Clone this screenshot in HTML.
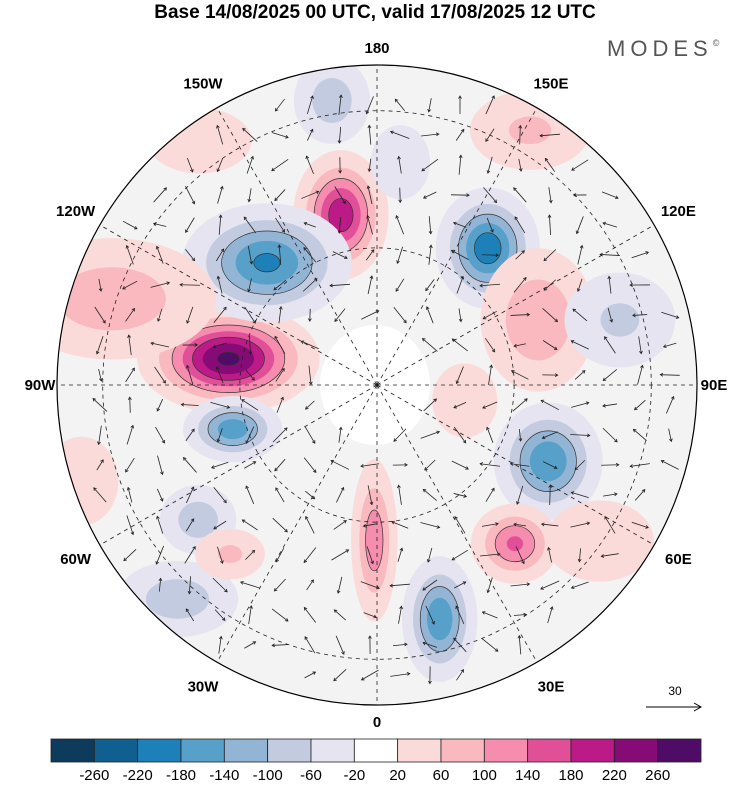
<!DOCTYPE html>
<html><head><meta charset="utf-8"><style>
body{margin:0;background:#fff;width:750px;height:783px;overflow:hidden;font-family:"Liberation Sans",sans-serif}
</style></head><body>
<svg id="s" width="750" height="783" viewBox="0 0 750 783">
<text x="375" y="18" text-anchor="middle" font-size="19" font-weight="bold">Base 14/08/2025 00 UTC, valid 17/08/2025 12 UTC</text>
<text x="607" y="56" font-size="22" fill="#555" letter-spacing="5">MODES<tspan font-size="9" dy="-10">©</tspan></text>
<defs><clipPath id="disk"><circle cx="377" cy="385" r="320"/></clipPath></defs>
<g id="map" clip-path="url(#disk)"></g>
<circle cx="377" cy="385" r="320" fill="none" stroke="#000" stroke-width="1.2"/>
<g id="labels" font-size="15" font-weight="bold"></g>
<g id="cbar"></g>
<text x="675" y="695" font-size="12" text-anchor="middle">30</text>
<line x1="646" y1="707" x2="700" y2="707" stroke="#000"/>
<path d="M694 703 L701 707 L694 711" fill="none" stroke="#000"/>
</svg>
<script>
const blobLon=[-100,-168,-138,141,-73,66,15,41,-1,112,-108,-171,105,-43,-53,-41,-144,149,174,-72,80,55];
const blobLat=[57,52,54,51.5,57,49,37,44,56,52,29,27,35,26,41,41,24,25,41,22,70.5,30.5];
const blobVal=[270,210,-190,-210,-170,-180,-180,150,130,100,90,-90,-70,-90,-90,70,60,70,-60,60,60,50];
const blobSpread=[[40,24],[22,30],[40,28],[24,28],[24,16],[26,28],[18,30],[22,20],[12,42],[32,40],[60,35],[22,25],[35,30],[35,22],[22,20],[22,16],[35,22],[38,25],[20,25],[25,30],[22,25],[40,30]];
const levels=[-260,-220,-180,-140,-100,-60,-20,20,60,100,140,180,220,260];
const colors=["#0c3b5c","#0f6091","#1d80b9","#56a0ca","#92b5d6","#c3cbe0","#e6e4f0","#ffffff","#fbdbd9","#f9b9bf","#f68daf","#e24f99","#bc1a86","#870b77","#4f0c66"];
const latCircles=[30,60];
const meridians=[0,30,60,90,120,150,180,210,240,270,300,330];
const lonLabels=["0","30E","60E","90E","120E","150E","180","150W","120W","90W","60W","30W"];
const NS="http://www.w3.org/2000/svg",cx=377,cy=385,R=320;
function proj(lon,lat){const r=R*(90-lat)/70,a=lon*Math.PI/180;return[cx+r*Math.sin(a),cy+r*Math.cos(a),a];}
function mk(t,p,at){const e=document.createElementNS(NS,t);for(const k in at)e.setAttribute(k,at[k]);p.appendChild(e);return e;}
const map=document.getElementById('map');
const bg=mk('circle',map,{cx:cx,cy:cy,r:R,fill:'#f3f3f3'});


const pole=mk('ellipse',map,{cx:375,cy:385,rx:55,ry:60,fill:'#fff'});


blobVal.forEach((v,i)=>{
  const [x,y]=proj(blobLon[i],blobLat[i]);
  const g=mk('g',map,{transform:`translate(${x},${y})`});
  
  
  const sgn=Math.sign(v),av=Math.abs(v);
  for(let L=20;L<av;L+=40){
    const d=Math.sqrt(2*Math.log(av/L));
    const idx=sgn>0?7+Math.ceil((L-20)/40)+1:7-Math.ceil((L-20)/40)-1;
    mk('ellipse',g,{cx:0,cy:0,rx:blobSpread[i][0]*d,ry:blobSpread[i][1]*d,fill:colors[Math.max(0,Math.min(14,idx))],stroke:(L>=100&&(L-20)%80===0)?'#333':'none','stroke-width':0.7});
  }
});
for(let gx=70;gx<700;gx+=30){for(let gy=75;gy<700;gy+=30){
  const dx=gx-cx,dy=gy-cy;if(dx*dx+dy*dy>305*305||dx*dx+dy*dy<55*55)continue;
  const ang=Math.sin(gx*0.043+gy*0.031)*3+Math.cos(gy*0.05)*2;
  const len=6+4*Math.abs(Math.sin(gx*0.02+gy*0.07));
  const x2=gx+len*Math.cos(ang),y2=gy+len*Math.sin(ang);
  const ar=mk('g',map,{stroke:'#222','stroke-width':0.8,fill:'none'});
  
  
  mk('line',ar,{x1:gx-len*Math.cos(ang),y1:gy-len*Math.sin(ang),x2:x2,y2:y2});
  const b1=ang+2.6,b2=ang-2.6;
  mk('path',ar,{d:`M${x2+3*Math.cos(b1)} ${y2+3*Math.sin(b1)} L${x2} ${y2} L${x2+3*Math.cos(b2)} ${y2+3*Math.sin(b2)}`});
}}
latCircles.forEach(lat=>{const c=mk('circle',map,{cx:cx,cy:cy,r:R*(90-lat)/70,fill:'none',stroke:'#222','stroke-dasharray':'4 4','stroke-width':0.8});

});
const lab=document.getElementById('labels');
meridians.forEach((m,i)=>{
  const a=m*Math.PI/180;
  const l=mk('line',map,{x1:cx,y1:cy,x2:cx+R*Math.sin(a),y2:cy+R*Math.cos(a),stroke:'#222','stroke-dasharray':'4 4','stroke-width':0.8});
  
  
  const rr=(i%3===0)?337:348;
  const t=mk('text',lab,{x:cx+rr*Math.sin(a),y:cy+rr*Math.cos(a)+5,'text-anchor':'middle'});
  t.textContent=lonLabels[i];
  
  
});
const cb=document.getElementById('cbar');
const x0=51,w=650/15;
colors.forEach((c,i)=>{const r=mk('rect',cb,{x:x0+i*w,y:739,width:w,height:23,fill:c,stroke:'#222','stroke-width':0.8});

});
levels.forEach((v,i)=>{const t=mk('text',cb,{x:x0+(i+1)*w,y:780,'text-anchor':'middle','font-size':15});t.textContent=v;

});
</script>
</body></html>
